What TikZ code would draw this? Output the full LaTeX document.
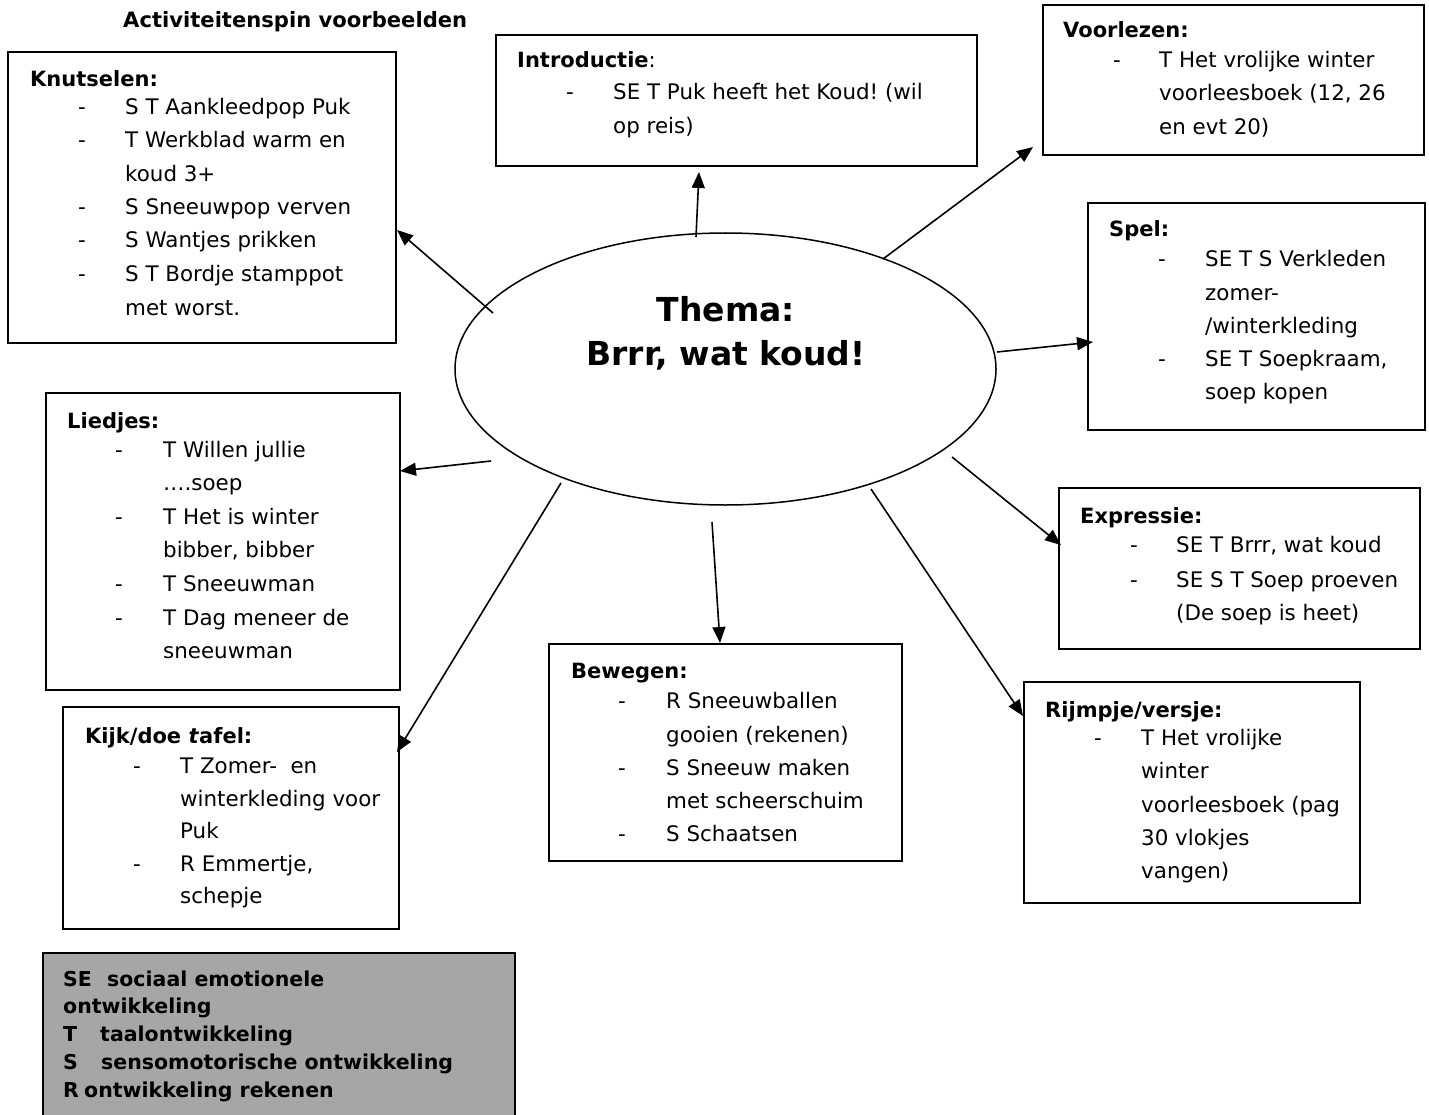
\documentclass[tikz,border=0pt]{standalone}
\usepackage{fontspec}
\setmainfont{DejaVu Sans}
\usetikzlibrary{arrows.meta,shapes.geometric,fit}
\definecolor{legendgray}{RGB}{166,166,166}
\frenchspacing
\newcommand\putline[4]{\node[txt] (#1) at (#2,#3) {#4};}
\newcommand\puthead[4]{\node[hd] (#1) at (#2,#3) {#4};}
\newcommand\putdash[3]{\node[txt] (#1) at (#2,#3) {-};}
\begin{document}
\begin{tikzpicture}[x=1pt,y=-1pt,
  box/.style={draw, line width=1.8pt, inner sep=0pt},
  txt/.style={anchor=base west, inner sep=0pt, font=\fontsize{21.4}{25}\selectfont},
  hd/.style={anchor=base west, inner sep=0pt, font=\fontsize{21}{25}\selectfont\bfseries},
  lg/.style={anchor=base west, inner sep=0pt, font=\fontsize{20.5}{24}\selectfont\bfseries},
  arr/.style={line width=1.6pt, -{Triangle[length=16pt,width=13pt]}}]
\useasboundingbox (0,0) rectangle (1429,1115);
\clip (0,0) rectangle (1429,1115);
\fill[white] (0,0) rectangle (1429,1115);

% title
\node[hd,font=\fontsize{21.1}{25}\selectfont\bfseries] (title) at (123,28) {Activiteitenspin voorbeelden};

% boxes
\node[box, fit={(8,52) (396,343)}] (knut) {};
\node[box, fit={(496,35) (977,166)}] (intro) {};
\node[box, fit={(1043,5) (1424,155)}] (voor) {};
\node[box, fit={(1088,203) (1425,430)}] (spel) {};
\node[box, fit={(46,393) (400,690)}] (lied) {};
\node[box, fit={(63,707) (399,929)}] (kijk) {};
\node[box, fit={(549,644) (902,861)}] (bew) {};
\node[box, fit={(1059,488) (1420,649)}] (expr) {};
\node[box, fit={(1024,682) (1360,903)}] (rijm) {};
\node[box, fill=legendgray, fit={(43,953) (515,1130)}] (legend) {};

% centre
\node[draw, ellipse, line width=1.5pt, minimum width=541pt, minimum height=272pt, inner sep=0pt] (thema) at (725.5,369) {};
\node[anchor=base, inner sep=0pt, font=\fontsize{33}{40}\selectfont\bfseries] (th1) at (726,321) {Thema:};
\node[anchor=base, inner sep=0pt, font=\fontsize{33}{40}\selectfont\bfseries] (th2) at (726,365) {Brrr, wat koud!};

% Knutselen
\puthead{k0}{30}{87}{Knutselen:}
\putdash{kd1}{78}{115}\putdash{kd2}{78}{148}\putdash{kd3}{78}{215}\putdash{kd4}{78}{248}\putdash{kd5}{78}{282}
\putline{k1}{125}{115}{S T Aankleedpop Puk}
\putline{k2}{125}{148}{T Werkblad warm en}
\putline{k3}{125}{182}{koud 3+}
\putline{k4}{125}{215}{S Sneeuwpop verven}
\putline{k5}{125}{248}{S Wantjes prikken}
\putline{k6}{125}{282}{S T Bordje stamppot}
\putline{k7}{125}{316}{met worst.}

% Introductie
\node[txt] (i0) at (517,68) {\fontsize{21}{25}\selectfont\textbf{Introductie}:};
\putdash{id1}{566}{100}
\putline{i1}{613}{100}{SE T Puk heeft het Koud! (wil}
\putline{i2}{613}{134}{op reis)}

% Voorlezen
\puthead{v0}{1063}{38}{Voorlezen:}
\putdash{vd1}{1113}{68}
\putline{v1}{1159}{68}{T Het vrolijke winter}
\putline{v2}{1159}{101}{voorleesboek (12, 26}
\putline{v3}{1159}{135}{en evt 20)}

% Spel
\puthead{s0}{1109}{237}{Spel:}
\putdash{sd1}{1158}{267}\putdash{sd2}{1158}{366}
\putline{s1}{1205}{267}{SE T S Verkleden}
\putline{s2}{1205}{300}{zomer-}
\putline{s3}{1205}{333}{/winterkleding}
\putline{s4}{1205}{366}{SE T Soepkraam,}
\putline{s5}{1205}{399}{soep kopen}

% Liedjes
\puthead{l0}{67}{428}{Liedjes:}
\putdash{ld1}{115}{457}\putdash{ld2}{115}{524}\putdash{ld3}{115}{591}\putdash{ld4}{115}{625}
\putline{l1}{163}{457}{T Willen jullie}
\putline{l2}{163}{490}{….soep}
\putline{l3}{163}{524}{T Het is winter}
\putline{l4}{163}{557}{bibber, bibber}
\putline{l5}{163}{591}{T Sneeuwman}
\putline{l6}{163}{625}{T Dag meneer de}
\putline{l7}{163}{658}{sneeuwman}

% Kijk/doe tafel
\puthead{kt0}{85}{743}{Kijk/doe \textit{t}afel:}
\putdash{ktd1}{133}{773}\putdash{ktd2}{133}{871}
\putline{kt1}{180}{773}{T Zomer-\ \ en}
\putline{kt2}{180}{806}{winterkleding voor}
\putline{kt3}{180}{838}{Puk}
\putline{kt4}{180}{871}{R Emmertje,}
\putline{kt5}{180}{903}{schepje}

% Bewegen
\puthead{b0}{571}{678}{Bewegen:}
\putdash{bd1}{618}{708}\putdash{bd2}{618}{775}\putdash{bd3}{618}{841}
\putline{b1}{666}{708}{R Sneeuwballen}
\putline{b2}{666}{742}{gooien (rekenen)}
\putline{b3}{666}{775}{S Sneeuw maken}
\putline{b4}{666}{808}{met scheerschuim}
\putline{b5}{666}{841}{S Schaatsen}

% Expressie
\puthead{e0}{1080}{523}{Expressie:}
\putdash{ed1}{1130}{552}\putdash{ed2}{1130}{587}
\putline{e1}{1176}{552}{SE T Brrr, wat koud}
\putline{e2}{1176}{587}{SE S T Soep proeven}
\putline{e3}{1176}{620}{(De soep is heet)}

% Rijmpje/versje
\puthead{r0}{1045}{717}{Rijmpje/versje:}
\putdash{rd1}{1094}{745}
\putline{r1}{1141}{745}{T Het vrolijke}
\putline{r2}{1141}{778}{winter}
\putline{r3}{1141}{812}{voorleesboek (pag}
\putline{r4}{1141}{845}{30 vlokjes}
\putline{r5}{1141}{878}{vangen)}

% legend
\node[lg] (g1a) at (63,986) {SE};
\node[lg] (g1b) at (107,986) {sociaal emotionele};
\node[lg] (g2) at (63,1013) {ontwikkeling};
\node[lg] (g3a) at (63,1041) {T};
\node[lg] (g3b) at (100,1041) {taalontwikkeling};
\node[lg] (g4a) at (63,1069) {S};
\node[lg] (g4b) at (101,1069) {sensomotorische ontwikkeling};
\node[lg] (g5a) at (63,1097) {R};
\node[lg] (g5b) at (84,1097) {ontwikkeling rekenen};

% connectors
\coordinate (sKnut) at (493,313); \coordinate (tKnut) at (397,230);
\coordinate (sIntro) at (696,237); \coordinate (tIntro) at (699,172);
\coordinate (sVoor) at (883,259); \coordinate (tVoor) at (1033,147);
\coordinate (sSpel) at (997,352); \coordinate (tSpel) at (1093,342);
\coordinate (sExpr) at (952,457); \coordinate (tExpr) at (1061,545);
\coordinate (sRijm) at (871,489); \coordinate (tRijm) at (1023,716);
\coordinate (sBew) at (712,522); \coordinate (tBew) at (720,643);
\coordinate (sKijk) at (561,483); \coordinate (tKijk) at (397,752);
\coordinate (sLied) at (491,461); \coordinate (tLied) at (400,471);
\draw[arr] (sKnut) -- (tKnut);
\draw[arr] (sIntro) -- (tIntro);
\draw[arr] (sVoor) -- (tVoor);
\draw[arr] (sSpel) -- (tSpel);
\draw[arr] (sExpr) -- (tExpr);
\draw[arr] (sRijm) -- (tRijm);
\draw[arr] (sBew) -- (tBew);
\draw[arr] (sKijk) -- (tKijk);
\draw[arr] (sLied) -- (tLied);
\end{tikzpicture}
\end{document}
